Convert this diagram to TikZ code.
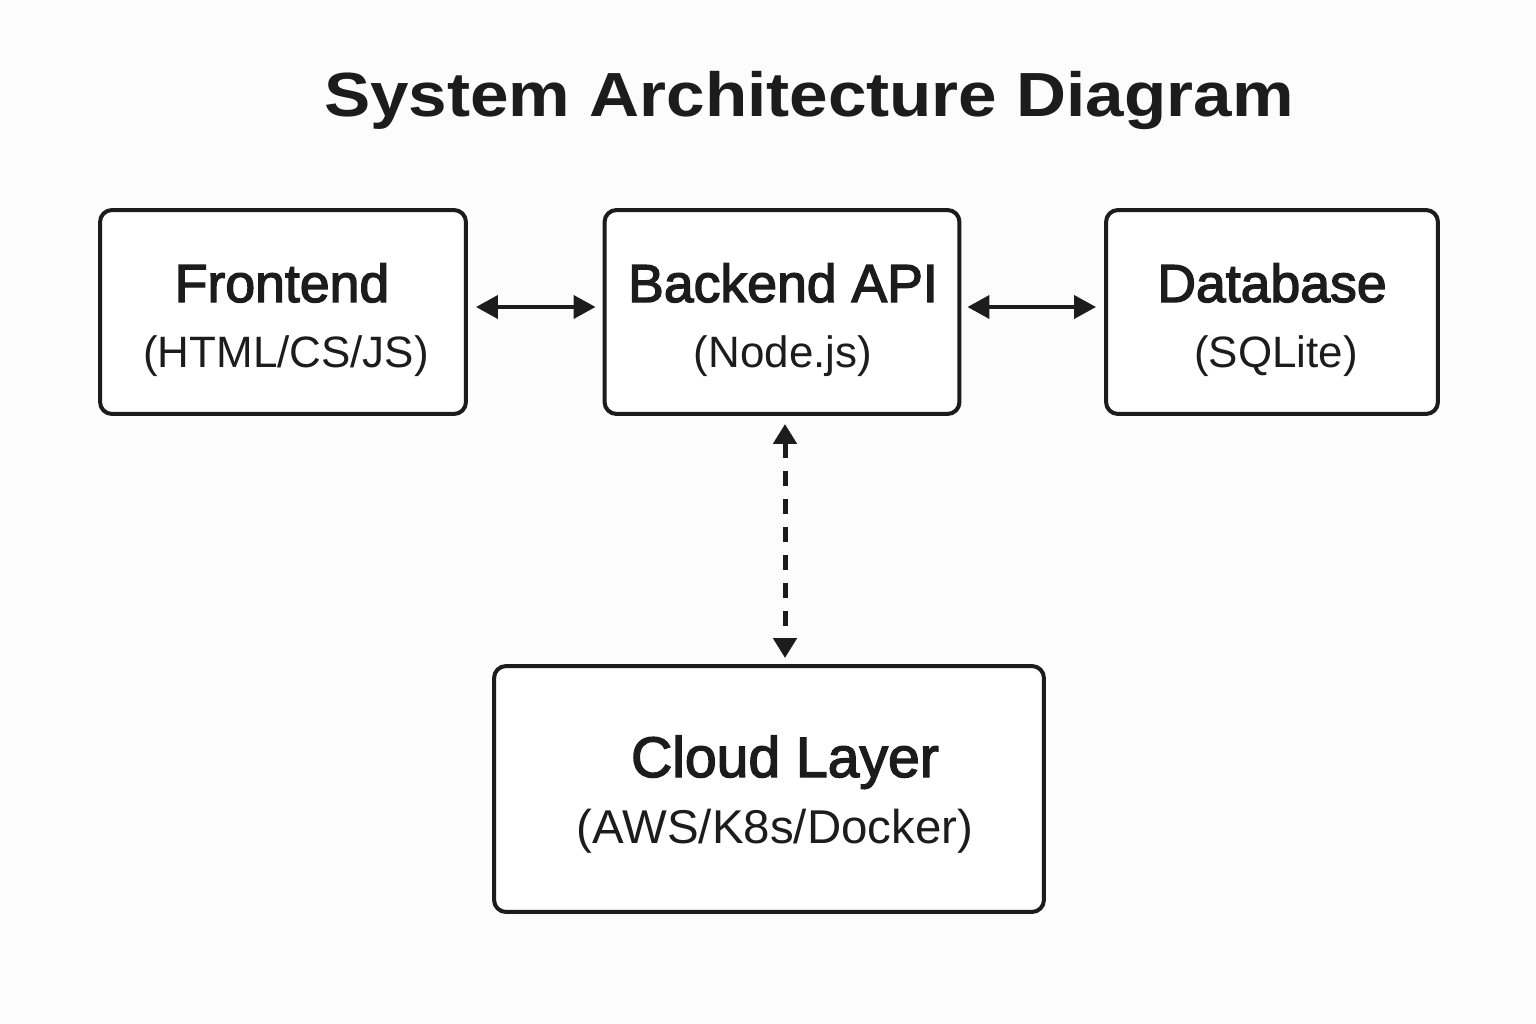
\documentclass[tikz,border=0pt]{standalone}
\usepackage{fontspec}
\setmainfont{Liberation Sans}
\usetikzlibrary{arrows.meta}
\definecolor{ink}{HTML}{1C1C1C}
\definecolor{bg}{HTML}{FCFCFC}
\newfontfamily\medfont[FakeBold=2.5]{Liberation Sans}
\begin{document}
\begin{tikzpicture}[x=0.02cm,y=-0.02cm,
  box/.style={draw=ink,line width=0.08cm,rounded corners=0.24cm,fill=white,inner sep=0pt},
  maintxt/.style={text=ink,font=\medfont\fontsize{30.5}{36}\selectfont,anchor=base,inner sep=0pt},
  subtxt/.style={text=ink,font=\fontsize{25}{28}\selectfont,anchor=base,inner sep=0pt},
  arr/.style={draw=ink,line width=0.08cm,{Triangle[length=0.44cm,width=0.46cm]}-{Triangle[length=0.44cm,width=0.46cm]}},
  darr/.style={draw=ink,line width=0.1cm,dash pattern=on 0.3cm off 0.26cm,{Triangle[length=0.4cm,width=0.46cm]}-{Triangle[length=0.4cm,width=0.46cm]}}
]
\fill[bg] (0,0) rectangle (1536,1024);
\useasboundingbox (0,0) rectangle (1536,1024);

\node[text=ink,font=\bfseries\fontsize{35.5}{40}\selectfont,anchor=base,inner sep=0pt,xscale=1.11,transform shape] (title) at (809,117) {System Architecture Diagram};

\node[box,minimum width=7.32cm,minimum height=4.08cm] (fe) at (283,312) {};
\node[box,minimum width=7.1cm,minimum height=4.08cm] (be) at (782,312) {};
\node[box,minimum width=6.64cm,minimum height=4.08cm] (db) at (1272,312) {};
\node[box,minimum width=11.0cm,minimum height=4.92cm] (cl) at (769,789) {};

\node[maintxt] (fe-t) at (282,302) {Frontend};
\node[subtxt] (fe-s) at (286,367) {(HTML/CS/JS)};
\node[maintxt] (be-t) at (783,302) {Backend API};
\node[subtxt] (be-s) at (783,367) {(Node.js)};
\node[maintxt] (db-t) at (1272,302) {Database};
\node[subtxt] (db-s) at (1276,367) {(SQLite)};
\node[maintxt,font=\medfont\fontsize{32.5}{36}\selectfont] (cl-t) at (785,777) {Cloud Layer};
\node[subtxt,font=\fontsize{27}{30}\selectfont] (cl-s) at (775,843) {(AWS/K8s/Docker)};

\draw[arr,shorten <=0.16cm,shorten >=0.14cm] ([yshift=0.1cm]fe.east) -- ([yshift=0.1cm]be.west);
\draw[arr,shorten <=0.12cm,shorten >=0.16cm] ([yshift=0.1cm]be.east) -- ([yshift=0.1cm]db.west);
\coordinate (vtop) at ([xshift=0.06cm]be.south);
\coordinate (vbot) at (vtop |- cl.north);
\draw[darr,shorten <=0.16cm,shorten >=0.12cm] (vtop) -- (vbot);
\end{tikzpicture}
\end{document}
